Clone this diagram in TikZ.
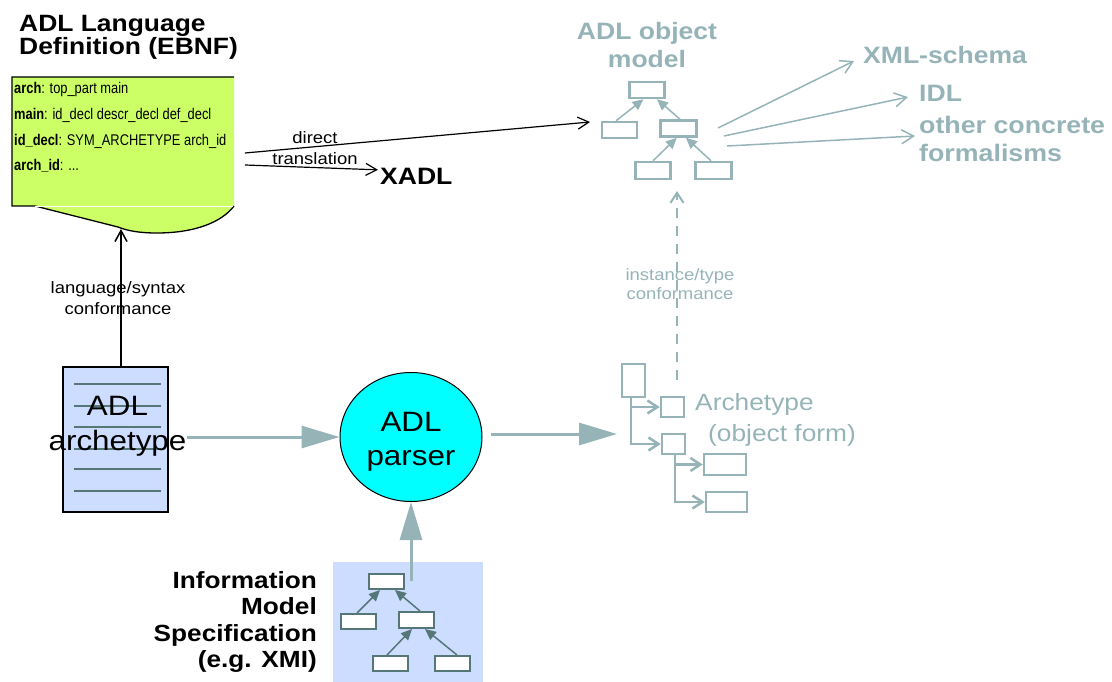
\documentclass[tikz,border=0pt]{standalone}
\usepackage{fontspec}
\setmainfont[FakeStretch=1.12]{Liberation Sans}
\newfontfamily\narrowfont[FakeStretch=0.83]{Liberation Sans}
\usetikzlibrary{arrows.meta,shapes.geometric}
\definecolor{teal1}{HTML}{96B4B8}
\definecolor{dteal}{HTML}{557777}
\definecolor{lime}{HTML}{CCFF66}
\definecolor{lblue}{HTML}{CCDDFF}
\definecolor{cyanfill}{HTML}{00FFFF}
\tikzset{
  bigarr/.style={draw=teal1, line width=3pt, -{Triangle[length=38pt,width=22pt]}},
  blkarr/.style={draw=black, line width=1.2pt, -{Straight Barb[length=11pt,width=12pt]}},
  tealarr/.style={draw=teal1, line width=1.5pt, -{Straight Barb[length=12pt,width=14pt]}},
  omarr/.style={draw=teal1, line width=1.5pt, -{Triangle[length=11pt,width=10pt]}},
  imarr/.style={draw=dteal, line width=1.5pt, -{Triangle[length=11pt,width=10pt]}},
  ombox/.style={draw=teal1, line width=2.5pt, fill=white, inner sep=0pt},
  imbox/.style={draw=dteal, line width=2pt, fill=white, inner sep=0pt},
  atconn/.style={draw=teal1, line width=2.5pt, -{Straight Barb[length=10pt,width=13pt]}},
  bigbold/.style={inner sep=0pt, font=\fontsize{23.7}{28}\selectfont\bfseries},
  smalllbl/.style={inner sep=0pt, align=center, font=\fontsize{16.5}{21}\selectfont},
  gtext/.style={inner sep=0pt, anchor=base west, font=\narrowfont\fontsize{15.5}{18}\selectfont},
}
\begin{document}
\begin{tikzpicture}[x=1pt,y=-1pt]
\useasboundingbox (0,0) rectangle (1112,682);

% ---------- title ----------
\node[bigbold, align=left, anchor=north west, font=\fontsize{23.6}{22}\selectfont\bfseries] (title) at (19,15) {ADL Language\\Definition (EBNF)};

% ---------- green grammar document ----------
\fill[lime] (12,77) -- (234,77) -- (234,206) .. controls (222,222) and (195,233) .. (157,233)
  .. controls (140,233) and (128,231) .. (118,227) -- (35,206) -- (12,206) -- cycle;
\draw[line width=1.3pt] (234,77) -- (12,77) -- (12,206) -- (35,206) -- (118,227)
  .. controls (128,231) and (140,233) .. (157,233) .. controls (195,233) and (222,222) .. (234,206);
\draw[white, line width=0.8pt] (35,206) -- (233,206);
\coordinate (gbot) at (121,229);

\node[gtext] (g1) at (14,94) {\textbf{arch}: top\_part main};
\node[gtext] (g2) at (14,120) {\textbf{main}: id\_decl descr\_decl def\_decl};
\node[gtext] (g3) at (14,146) {\textbf{id\_decl}: SYM\_ARCHETYPE arch\_id};
\node[gtext] (g4) at (14,171) {\textbf{arch\_id}: ...};

% ---------- direct translation ----------
\coordinate (gsrc1) at (245,153);
\coordinate (gsrc2) at (245,165);
\node[bigbold, anchor=base west] (xadl) at (380,185) {XADL};
\node[smalllbl, anchor=north] (dirlbl) at (315,131) {direct\\translation};

% ---------- ADL object model ----------
\node[bigbold, align=center, anchor=north, text=teal1, font=\fontsize{23.7}{28}\selectfont\bfseries] (omtitle) at (647,22.5) {ADL object\\model};
\node[ombox, minimum width=35, minimum height=16] (omT) at (647,90) {};
\node[ombox, minimum width=35, minimum height=16] (omL) at (619.5,130) {};
\node[ombox, minimum width=36, minimum height=16] (omM) at (678.3,128.5) {};
\node[ombox, minimum width=35, minimum height=17] (omBL) at (653,170.5) {};
\node[ombox, minimum width=36, minimum height=17] (omBR) at (713.3,170.5) {};
\draw[omarr] ([xshift=-3.5pt]omL.north) -- ([xshift=-3.5pt]omT.south);
\draw[omarr] ([xshift=1.7pt]omM.north) -- ([xshift=10pt]omT.south);
\draw[omarr] (omBL.north) -- ([xshift=-1.5pt]omM.south);
\draw[omarr] ([xshift=-2.3pt]omBR.north) -- ([xshift=7.7pt]omM.south);

\coordinate (omin) at (590,122);
\draw[blkarr] (gsrc1) -- (omin);
\draw[blkarr] (gsrc2) -- ([xshift=-2pt,yshift=7pt]xadl.west);

\node[bigbold, anchor=base west, text=teal1] (xml) at (863,64) {XML-schema};
\node[bigbold, anchor=base west, text=teal1] (idl) at (919,102) {IDL};
\node[bigbold, anchor=north west, align=left, text=teal1, font=\fontsize{23.9}{28}\selectfont\bfseries] (other) at (919,115.5) {other concrete\\formalisms};
\coordinate (om1) at (718,128);
\coordinate (om2) at (724,136);
\coordinate (om3) at (727,146);
\coordinate (xmlin) at (854,61);
\coordinate (idlin) at (908,97);
\coordinate (otherin) at (915,136);
\draw[tealarr] (om1) -- (xmlin);
\draw[tealarr] (om2) -- (idlin);
\draw[tealarr] (om3) -- (otherin);

% ---------- ADL archetype document ----------
\node[draw, fill=lblue, line width=2pt, minimum width=105, minimum height=145, inner sep=0pt] (archbox) at (115.5,439.5) {};
\foreach \yy in {384,406,427,449,469,491}
  \draw[dteal, line width=2.5pt] (74,\yy) -- (161,\yy);
\node[align=center, inner sep=0pt, font=\fontsize{28}{35}\selectfont] (archtxt) at (117.5,426) {ADL\\archetype};

\draw[line width=1.5pt, -{Straight Barb[length=11pt,width=12pt]}] (gbot |- archbox.north) -- (gbot);
\node[smalllbl, anchor=north] (synlbl) at (118,281) {language/syntax\\conformance};

% ---------- parser ----------
\node[ellipse, draw=black, line width=1pt, fill=cyanfill, minimum width=142, minimum height=129, inner sep=0pt] (parser) at (411,437) {};
\node[align=center, inner sep=0pt, font=\fontsize{28}{34}\selectfont] (parsertxt) at (411,442) {ADL\\parser};

\draw[bigarr] (archtxt.east |- parser.west) -- (parser.west);

% ---------- archetype object form ----------
\node[ombox, minimum width=23, minimum height=33] (atT) at (633.5,380.5) {};
\node[ombox, minimum width=23, minimum height=20] (atA) at (672.5,407) {};
\node[ombox, minimum width=23, minimum height=20] (atB) at (673.5,444) {};
\node[ombox, minimum width=42, minimum height=21] (atC) at (725,464.5) {};
\node[ombox, minimum width=41, minimum height=20] (atD) at (726.5,502) {};
\coordinate (atT0) at (631,397);
\coordinate (atB0) at (675,454);
\draw[atconn] (atT0) |- (atB.west);
\draw[atconn] (atT0 |- atA.west) -- (atA.west);
\draw[atconn] (atB0) |- (atD.west);
\draw[atconn] (atB0 |- atC.west) -- (atC.west);
\node[anchor=base west, inner sep=0pt, text=teal1, font=\fontsize{23.5}{28}\selectfont] (attxt1) at (695,410) {Archetype};
\node[anchor=base west, inner sep=0pt, text=teal1, font=\fontsize{23.5}{28}\selectfont] (attxt2) at (708,441) {(object form)};

\coordinate (atin) at (617,434);
\draw[bigarr, shorten <=8pt] (parser.east |- atin) -- (atin);

% ---------- instance/type conformance ----------
\coordinate (dashlow) at (677,380);
\coordinate (dashtop) at (677,191);
\draw[draw=teal1, line width=2pt, dash pattern=on 10pt off 8pt, -{Straight Barb[length=10pt,width=13pt]}] (dashlow) -- (dashtop);
\node[smalllbl, anchor=north, text=teal1, font=\fontsize{16.5}{19}\selectfont] (instlbl) at (680,268) {instance/type\\conformance};

% ---------- information model ----------
\fill[lblue] (333,562) rectangle (483,682);
\node[imbox, minimum width=35, minimum height=15] (imT) at (386.5,581.5) {};
\node[imbox, minimum width=35, minimum height=15] (imL) at (358.5,621.5) {};
\node[imbox, minimum width=35, minimum height=16] (imM) at (416.5,620) {};
\node[imbox, minimum width=35, minimum height=15] (imBL) at (390.5,663.5) {};
\node[imbox, minimum width=35, minimum height=15] (imBR) at (452.5,663.5) {};
\draw[imarr] ([xshift=-1.5pt]imL.north) -- ([xshift=-6.5pt]imT.south);
\draw[imarr] ([xshift=3.5pt]imM.north) -- ([xshift=8.5pt]imT.south);
\draw[imarr] ([xshift=-3.5pt]imBL.north) -- ([xshift=-4.5pt]imM.south);
\draw[imarr] ([xshift=4.5pt]imBR.north) -- ([xshift=8.5pt]imM.south);
\coordinate (imsrc) at (411,581);
\draw[bigarr] (imsrc) -- (parser.south);
\node[bigbold, align=right, anchor=north east, font=\fontsize{23.4}{26.5}\selectfont\bfseries] (imtxt) at (317,571) {Information\\Model\\Specification\\(e.g. XMI)};

\end{tikzpicture}
\end{document}
